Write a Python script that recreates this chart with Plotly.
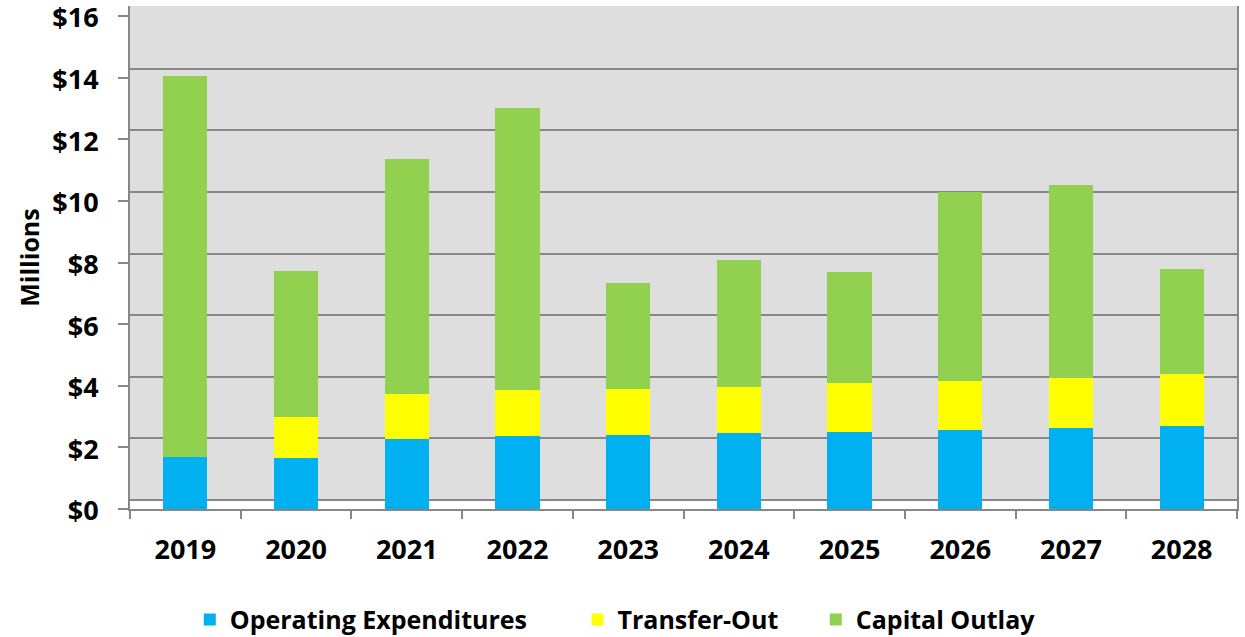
import plotly.graph_objects as go

# dados (milhoes)
anos = ["2019", "2020", "2021", "2022", "2023", "2024", "2025", "2026", "2027", "2028"]
operating = [1.69, 1.66, 2.27, 2.37, 2.40, 2.47, 2.50, 2.56, 2.63, 2.69]
transfer_out = [0.00, 1.33, 1.46, 1.49, 1.50, 1.49, 1.59, 1.60, 1.62, 1.69]
capital = [12.37, 4.74, 7.63, 9.16, 3.44, 4.12, 3.60, 6.13, 6.27, 3.41]
y_ticks = [0, 2, 4, 6, 8, 10, 12, 14, 16]
y_tick_labels = ["$0", "$2", "$4", "$6", "$8", "$10", "$12", "$14", "$16"]

cor_fundo = "#dedede"
cor_grid = "#878787"
fonte = "Open Sans"

fig = go.Figure()

# espacos nao separaveis no fim dos nomes para abrir a legenda
fig.add_trace(go.Bar(x=anos, y=operating, name="Operating Expenditures" + "\u00a0" * 7,
                     marker=dict(color="#00b0f0", line=dict(width=0))))
fig.add_trace(go.Bar(x=anos, y=transfer_out, name="Transfer-Out" + "\u00a0" * 5,
                     marker=dict(color="#ffff00", line=dict(width=0))))
fig.add_trace(go.Bar(x=anos, y=capital, name="Capital Outlay",
                     marker=dict(color="#92d050", line=dict(width=0))))

# parede do fundo: grid um pouco acima dos ticks (efeito 3D)
px_por_unidade = 30.8
deslocamento = 9 / px_por_unidade
y_max = 16 + 10 / px_por_unidade

fig.update_layout(
    barmode="stack",
    bargap=0.6,
    width=1245,
    height=637,
    paper_bgcolor="white",
    plot_bgcolor=cor_fundo,
    font=dict(family=fonte, color="black", size=26),
    margin=dict(l=130, r=8, t=6, b=128, autoexpand=False),
    xaxis=dict(
        type="category",
        tickson="boundaries",
        ticks="outside",
        ticklen=8,
        tickcolor=cor_grid,
        tickwidth=2,
        showline=True,
        linecolor=cor_grid,
        linewidth=2,
        showgrid=False,
        automargin=False,
        tickfont=dict(family=fonte, size=27, color="black", weight="bold"),
        ticklabelstandoff=16,
    ),
    yaxis=dict(
        range=[0, y_max],
        tickvals=y_ticks,
        ticktext=y_tick_labels,
        ticks="outside",
        ticklen=10,
        tickcolor=cor_grid,
        tickwidth=2,
        showline=True,
        mirror=True,
        linecolor=cor_grid,
        linewidth=2,
        showgrid=False,
        zeroline=False,
        automargin=False,
        ticklabeloverflow="allow",
        ticklabelstandoff=14,
        ticklabelshift=2,
        tickfont=dict(family=fonte, size=27, color="black", weight="bold"),
        title=dict(text="Millions", font=dict(family=fonte, size=25, color="black", weight="bold"),
                   standoff=6),
    ),
    yaxis2=dict(
        overlaying="y",
        range=[-deslocamento, y_max - deslocamento],
        tickvals=y_ticks,
        showticklabels=False,
        showgrid=True,
        gridcolor=cor_grid,
        gridwidth=2,
        zeroline=False,
    ),
    legend=dict(
        orientation="h",
        x=0.054,
        xanchor="left",
        y=-0.22,
        yanchor="middle",
        font=dict(family=fonte, size=25, color="black", weight="bold"),
        traceorder="normal",
        itemwidth=30,
    ),
    shapes=[dict(type="rect", xref="paper", yref="y2", x0=0, x1=1,
                 y0=-deslocamento, y1=0, fillcolor="white", line=dict(width=0), layer="below")],
)

# tira a margem padrao do body para o grafico ficar no canto da pagina
fig.write_html("out.html", config={"displayModeBar": False},
               post_script="document.body.style.margin='0';")
